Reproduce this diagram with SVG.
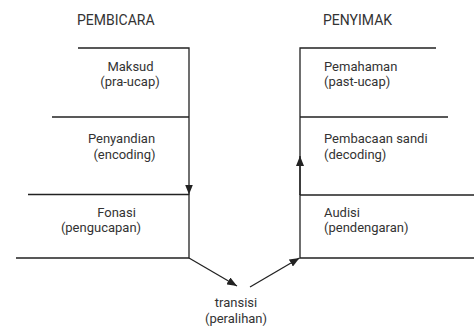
<svg xmlns="http://www.w3.org/2000/svg" width="474" height="329" viewBox="0 0 474 329">
<defs>
<style>
.ln{stroke:#222;stroke-width:1.3;fill:none}
.t{font-family:Roboto,"Liberation Sans",sans-serif;font-size:13px;fill:#333}
.h{font-family:Roboto,"Liberation Sans",sans-serif;font-size:14px;fill:#333}
.m{text-anchor:middle}
</style>
<marker id="ah" viewBox="0 0 10 8" refX="10" refY="4" markerWidth="10" markerHeight="8" markerUnits="userSpaceOnUse" orient="auto">
<path d="M0,0 L10,4 L0,8 z" fill="#222"/>
</marker>
</defs>
<rect width="474" height="329" fill="#fff"/>
<text class="h" x="77" y="25">PEMBICARA</text>
<text class="h" x="323" y="25">PENYIMAK</text>
<g id="maksud">
<path class="ln" d="M78,48 H189 V117"/>
<text class="t m" x="130.5" y="71">Maksud</text>
<text class="t m" x="130" y="85.5">(pra-ucap)</text>
</g>
<g id="penyandian">
<path class="ln" d="M52,117 H189"/>
<text class="t m" x="121.5" y="143">Penyandian</text>
<text class="t m" x="124.5" y="158.5">(encoding)</text>
</g>
<g id="fonasi">
<path class="ln" d="M28,194.5 H189 V258 H16"/>
<text class="t m" x="116.5" y="216.5">Fonasi</text>
<text class="t m" x="101" y="231.5">(pengucapan)</text>
</g>
<g id="pemahaman">
<path class="ln" d="M436,48 H300 V117"/>
<text class="t" x="324" y="71">Pemahaman</text>
<text class="t" x="324" y="85.5">(past-ucap)</text>
</g>
<g id="pembacaan">
<path class="ln" d="M300,117 H448 M300,117 V195"/>
<text class="t" x="324" y="143">Pembacaan sandi</text>
<text class="t" x="324" y="158.5">(decoding)</text>
</g>
<g id="audisi">
<path class="ln" d="M474,195 H300 V258 H474"/>
<text class="t" x="324" y="216.5">Audisi</text>
<text class="t" x="324" y="231.5">(pendengaran)</text>
</g>
<g id="transisi">
<text class="t m" x="236" y="306.5">transisi</text>
<text class="t m" x="236" y="322.5">(peralihan)</text>
</g>
<g id="connectors">
<path class="ln" d="M189,117 V194.5" marker-end="url(#ah)"/>
<path class="ln" d="M189,258 L237,286" marker-end="url(#ah)"/>
<path class="ln" d="M250,287 L299.5,258" marker-end="url(#ah)"/>
<path class="ln" d="M300,195 V156" marker-end="url(#ah)"/>
</g>
</svg>
